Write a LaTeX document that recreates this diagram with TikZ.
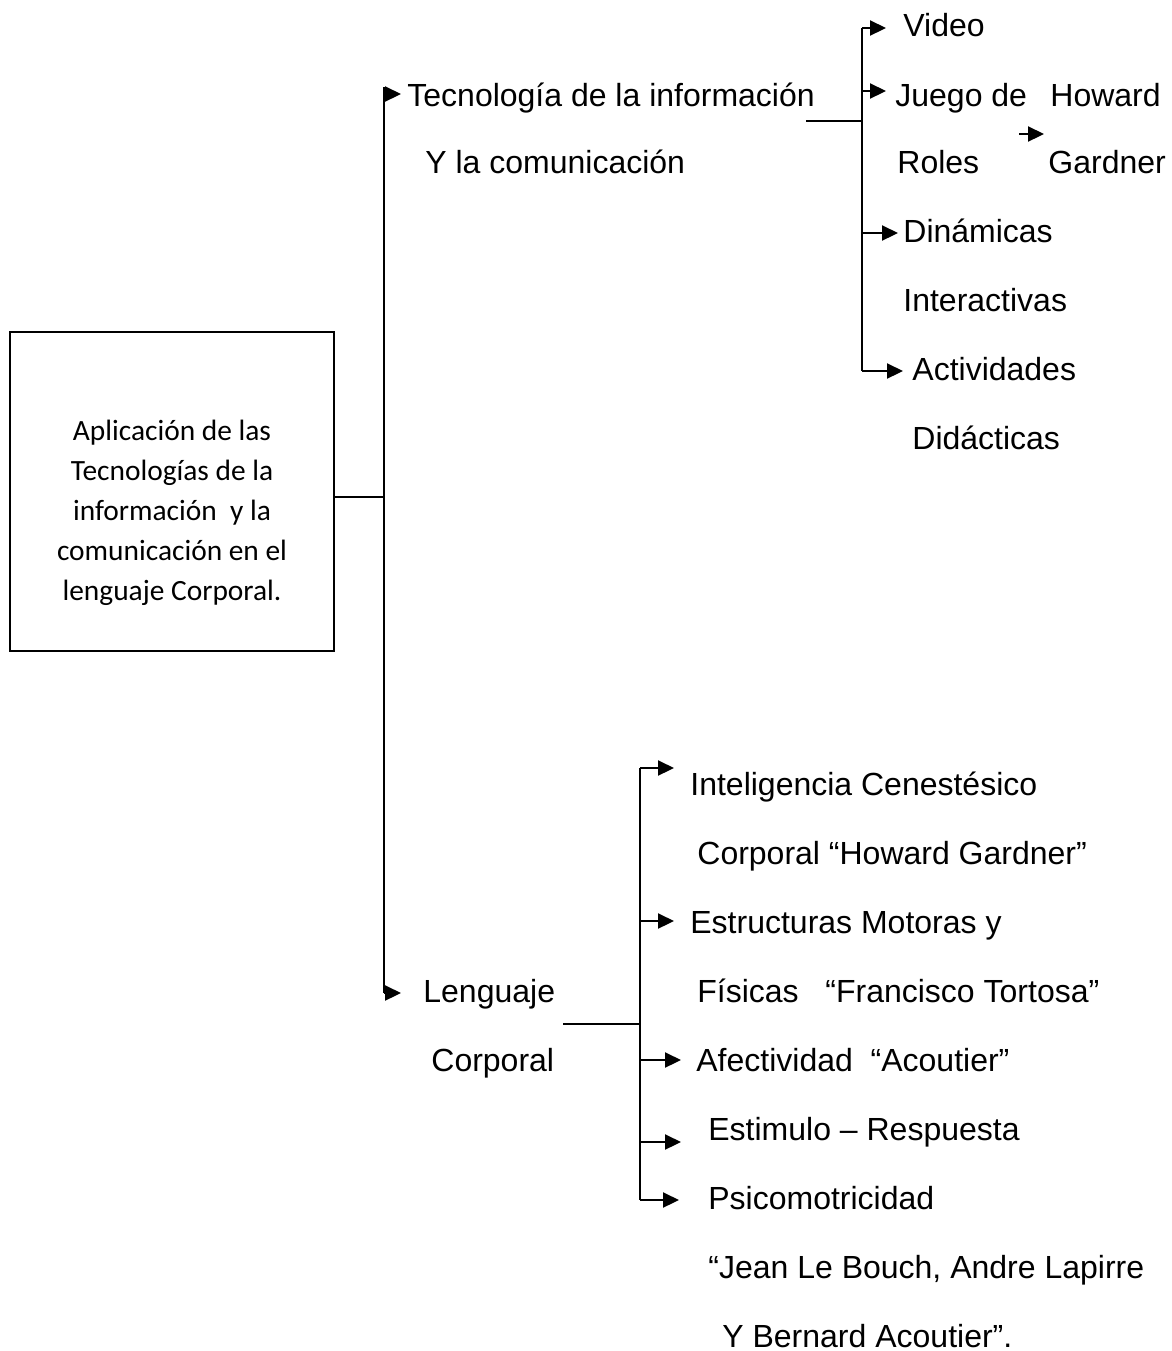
\documentclass[tikz,border=0pt]{standalone}
\usepackage{fontspec}
\setmainfont{Liberation Sans}
\newfontfamily\boxfont{Carlito}
\usetikzlibrary{arrows.meta}

\tikzset{
  lbl/.style={anchor=base west, inner sep=0pt, font=\fontsize{16}{19}\selectfont},
  flecha/.style={-{Triangle[length=8pt,width=7.5pt]}, line width=1.1pt},
  linea/.style={line width=1.1pt},
}

\begin{document}
\begin{tikzpicture}[x=0.5pt, y=-0.5pt]
    \useasboundingbox (0,0) rectangle (1172,1351);

    % caja principal
    \node[draw, line width=1.1pt, minimum width=162pt, minimum height=159.5pt, inner sep=0pt] (raiz) at (172,491.5) {};
    \node[align=center, inner sep=0pt, font=\boxfont\fontsize{14.7}{20}\selectfont] (raiztxt) at (172,513)
      {Aplicación de las\\ Tecnologías de la\\ información\ \ y la\\ comunicación en el\\ lenguaje Corporal.};

    % ramas
    \node[lbl] (tic)    at (407,106)  {Tecnología de la información};
    \node[lbl] (tic2)   at (425,173)  {Y la comunicación};
    \node[lbl] (leng)   at (423,1002) {Lenguaje};
    \node[lbl] (leng2)  at (431,1071) {Corporal};

    % hojas de la rama superior
    \node[lbl] (video)  at (903,36)   {Video};
    \node[lbl] (juego)  at (895,106)  {Juego de};
    \node[lbl] (roles)  at (897,173)  {Roles};
    \node[lbl] (howard) at (1050,106) {Howard};
    \node[lbl] (gard)   at (1048,173) {Gardner};
    \node[lbl] (dina)   at (903,242)  {Dinámicas};
    \node[lbl] (dina2)  at (903,311)  {Interactivas};
    \node[lbl] (acti)   at (912,380)  {Actividades};
    \node[lbl] (acti2)  at (912,449)  {Didácticas};

    % hojas de la rama inferior
    \node[lbl] (intel)  at (690,795)  {Inteligencia Cenestésico};
    \node[lbl] (intel2) at (697,864)  {Corporal “Howard Gardner”};
    \node[lbl] (estr)   at (690,933)  {Estructuras Motoras y};
    \node[lbl] (estr2)  at (697,1002) {Físicas \ \ “Francisco Tortosa”};
    \node[lbl] (afec)   at (696,1071) {Afectividad \ “Acoutier”};
    \node[lbl] (estim)  at (708,1140) {Estimulo – Respuesta};
    \node[lbl] (psico)  at (708,1209) {Psicomotricidad};
    \node[lbl] (psico2) at (708,1278) {“Jean Le Bouch, Andre Lapirre};
    \node[lbl] (psico3) at (722,1347) {Y Bernard Acoutier”.};

    % puntos de las llaves
    \coordinate (b0)   at (384,497);
    \coordinate (bTop) at (384,94);
    \coordinate (bBot) at (384,993);
    \coordinate (pTic) at (401,94);
    \coordinate (pLen) at (401,993);

    \coordinate (s0)   at (806,121);
    \coordinate (s1)   at (862,121);
    \coordinate (sTop) at (862,28);
    \coordinate (sBot) at (862,371);

    \coordinate (i0)   at (563,1024);
    \coordinate (i1)   at (640,1024);
    \coordinate (iTop) at (640,768);
    \coordinate (iBot) at (640,1200);

    % llave principal
    \draw[linea] (raiz.east |- b0) -- (b0);
    \draw[linea] (384,87) -- (bBot);
    \draw[flecha] (bTop) -- (pTic);
    \draw[flecha] (bBot) -- (pLen);

    % llave superior
    \draw[linea] (s0) -- (s1);
    \draw[linea] (sTop) -- (sBot);
    \foreach \ya/\xb in {28/886, 91/886, 233/898, 371/903}
      \draw[flecha] (862,\ya) -- (\xb,\ya);
    \draw[flecha] (1019,134) -- (1044,134);

    % llave inferior
    \draw[linea] (i0) -- (i1);
    \draw[linea] (iTop) -- (iBot);
    \foreach \ya/\xb in {768/674, 921/674, 1060/681, 1142/681, 1200/679}
      \draw[flecha] (640,\ya) -- (\xb,\ya);

\end{tikzpicture}
\end{document}
